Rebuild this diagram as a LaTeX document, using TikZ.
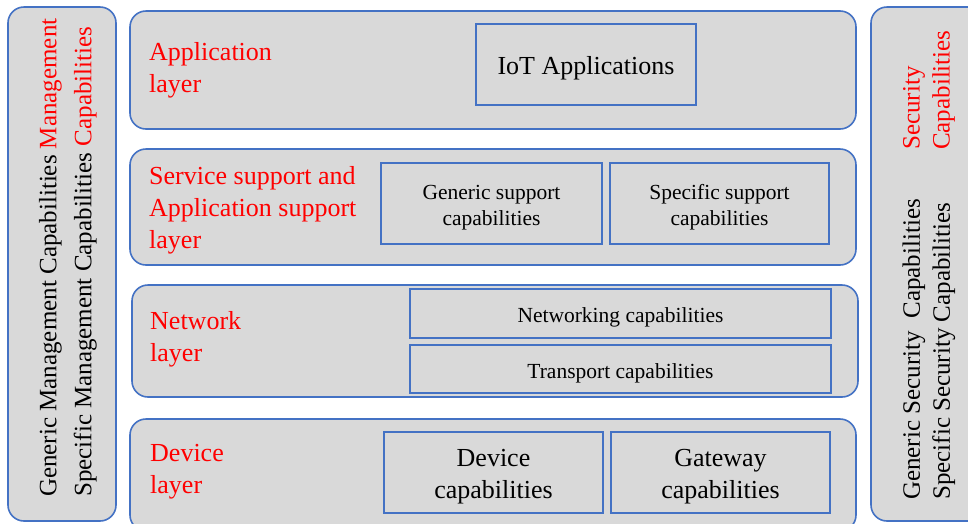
\documentclass[tikz,border=0pt]{standalone}
\usepackage{fontspec}
\setmainfont{Liberation Serif}
\definecolor{boxblue}{HTML}{4472C4}
\definecolor{boxgray}{HTML}{D9D9D9}
\tikzset{
  layerbox/.style={draw=boxblue, fill=boxgray, line width=1.6pt, rounded corners=16pt, inner sep=0pt},
  capbox/.style={draw=boxblue, fill=boxgray, line width=1.6pt, inner sep=0pt},
  captext/.style={inner sep=0pt, align=center, yshift=-4pt},
  layertitle/.style={text=red, inner sep=0pt, anchor=west, align=left, font=\fontsize{26}{32}\selectfont},
  sidetext/.style={inner sep=0pt, rotate=90, anchor=west, align=left}
}
\begin{document}
\begin{tikzpicture}[x=1pt,y=-1pt]
  \useasboundingbox (0,0) rectangle (968,523);
  \clip (0,0) rectangle (968,523);
  \node[layerbox, minimum width=108, minimum height=514] (mgmt) at (62,264) {};
  \node[layerbox, minimum width=120, minimum height=514] (sec) at (931,264) {};
  \node[sidetext, font=\fontsize{25}{35}\selectfont] (mgmttext) at (68,497)
    {Generic Management Capabilities \textcolor{red}{Management}\\Specific Management Capabilities \textcolor{red}{Capabilities}};
  \node[sidetext, font=\fontsize{25}{30}\selectfont] (sectext) at (929,500)
    {Generic Security\ \ Capabilities\\Specific Security Capabilities};
  \node[sidetext, text=red, font=\fontsize{25}{30}\selectfont] (sectitle) at (929,150)
    {Security\\Capabilities};

  \node[layerbox, minimum width=726, minimum height=118] (app) at (493,70) {};
  \node[layerbox, minimum width=726, minimum height=116] (svc) at (493,207) {};
  \node[layerbox, minimum width=726, minimum height=112] (net) at (495,341) {};
  \node[layerbox, minimum width=726, minimum height=112] (dev) at (493,475) {};

  \node[layertitle] (apptitle) at (149,70) {Application\\layer};
  \node[layertitle] (svctitle) at (149,210) {Service support and\\Application support\\layer};
  \node[layertitle] (nettitle) at (150,339) {Network\\layer};
  \node[layertitle] (devtitle) at (150,472) {Device\\layer};

  \node[capbox, minimum width=220, minimum height=81] (iot) at (586,64.5) {};
  \node[capbox, minimum width=221, minimum height=81] (gensup) at (491.5,203.5) {};
  \node[capbox, minimum width=219, minimum height=81] (specsup) at (719.5,203.5) {};
  \node[capbox, minimum width=421, minimum height=49] (netw) at (620.5,313.5) {};
  \node[capbox, minimum width=421, minimum height=48] (trans) at (620.5,369) {};
  \node[capbox, minimum width=219, minimum height=81] (devcap) at (493.5,472.5) {};
  \node[capbox, minimum width=219, minimum height=81] (gwcap) at (720.5,472.5) {};

  \node[captext, font=\fontsize{26}{30}\selectfont] (iottext) at (iot) {IoT Applications};
  \node[captext, font=\fontsize{21.5}{26}\selectfont] (gensuptext) at (gensup) {Generic support\\capabilities};
  \node[captext, font=\fontsize{21.5}{26}\selectfont] (specsuptext) at (specsup) {Specific support\\capabilities};
  \node[captext, font=\fontsize{21.5}{26}\selectfont] (netwtext) at (netw) {Networking capabilities};
  \node[captext, font=\fontsize{21.5}{26}\selectfont] (transtext) at (trans) {Transport capabilities};
  \node[captext, font=\fontsize{26}{32}\selectfont] (devcaptext) at (devcap) {Device\\capabilities};
  \node[captext, font=\fontsize{26}{32}\selectfont] (gwcaptext) at (gwcap) {Gateway\\capabilities};
\end{tikzpicture}
\end{document}
